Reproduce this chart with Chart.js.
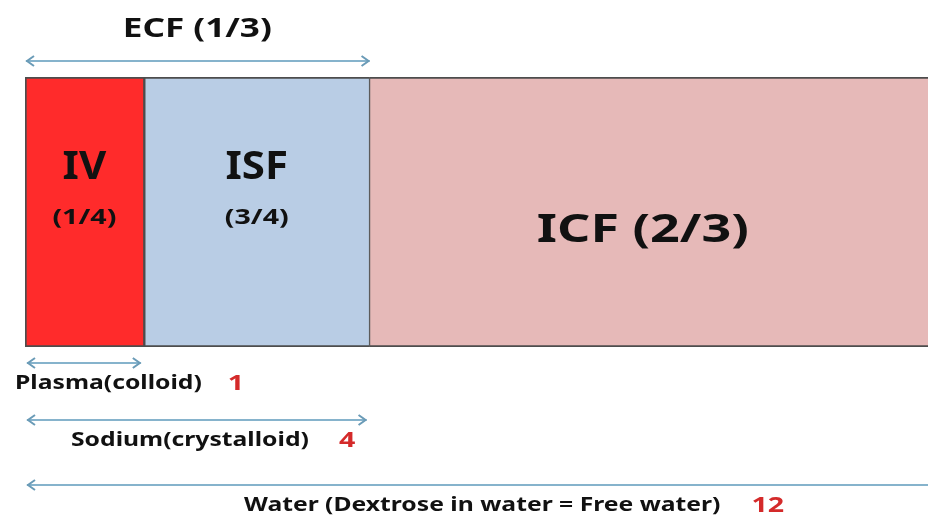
<!DOCTYPE html>
<html>
<head>
<meta charset="utf-8">
<script src="https://cdn.jsdelivr.net/npm/chart.js@4"></script>
<style>
  html, body { margin: 0; padding: 0; background: #fff; }
  #wrap { width: 928px; height: 519px; }
</style>
</head>
<body>
<div id="wrap"><canvas id="fluid_Chart" width="928" height="519"></canvas></div>
<script>
// 구획 데이터 (widths as drawn in the picture, IV = 1)
const segmentLabels = ['IV', 'ISF', 'ICF'];
const segmentValues = [1.0, 1.9, 4.7];
const segmentFractions = ['(1/4)', '(3/4)', '(2/3)'];
const segmentColors = ['#ff2b2b', '#b9cde5', '#e6b9b8'];

// 화살표 데이터 (each arrow runs from 0 to the end of segment n)
const arrowLabels = ['Plasma(colloid)', 'Sodium(crystalloid)', 'Water (Dextrose in water = Free water)'];
const arrowAmounts = ['1', '4', '12'];
const arrowEnds = [0, 1, 2];
const ecfLabel = 'ECF (1/3)';
const ecfEnd = 1;

const cumulative = segmentValues.map((v, i) => segmentValues.slice(0, i + 1).reduce((a, b) => a + b, 0));
const total = cumulative[cumulative.length - 1];

const FONT = '"Noto Sans", "DejaVu Sans", sans-serif';

// text in the picture is stretched sideways, sx is that stretch
function drawText(ctx, text, x, y, size, color, align, sx) {
    sx = sx || 1.3;
    ctx.save();
    ctx.font = 'bold ' + size + 'px ' + FONT;
    ctx.fillStyle = color;
    ctx.textBaseline = 'middle';
    ctx.translate(x, y);
    ctx.scale(sx, 1);
    ctx.textAlign = align || 'center';
    ctx.fillText(text, 0, 0);
    const w = ctx.measureText(text).width * sx;
    ctx.restore();
    return w;
}

function drawArrow(ctx, x1, x2, y, headRight) {
    ctx.save();
    ctx.strokeStyle = '#86b3cc';
    ctx.lineWidth = 2;
    ctx.beginPath();
    ctx.moveTo(x1, y);
    ctx.lineTo(x2, y);
    ctx.stroke();
    ctx.strokeStyle = '#6a9bb7';
    ctx.beginPath();
    ctx.moveTo(x1 + 8, y - 5);
    ctx.lineTo(x1 + 1, y);
    ctx.lineTo(x1 + 8, y + 5);
    if (headRight) {
        ctx.moveTo(x2 - 8, y - 5);
        ctx.lineTo(x2 - 1, y);
        ctx.lineTo(x2 - 8, y + 5);
    }
    ctx.stroke();
    ctx.restore();
}

const annotations = {
    id: 'annotations',
    afterDatasetsDraw(chart) {
        const ctx = chart.ctx;
        const xs = chart.scales.x;
        const x0 = xs.getPixelForValue(0);

        // ECF 화살표
        const ecfX = xs.getPixelForValue(cumulative[ecfEnd]);
        drawArrow(ctx, x0 + 1, ecfX, 61, true);
        drawText(ctx, ecfLabel, (x0 + ecfX) / 2, 29, 27, '#111');

        // 구획 라벨
        segmentLabels.forEach((label, i) => {
            const start = xs.getPixelForValue(i === 0 ? 0 : cumulative[i - 1]);
            const end = Math.min(xs.getPixelForValue(cumulative[i]), chart.width);
            const cx = (start + end) / 2;
            if (i < 2) {
                drawText(ctx, label, cx, 168, 40, '#111', 'center', 1.05);
                drawText(ctx, segmentFractions[i], cx, 218, 22, '#111');
            } else {
                drawText(ctx, label + ' ' + segmentFractions[i], cx - 6, 231, 40, '#111');
            }
        });

        // 아래쪽 화살표
        const rows = [
            { y: 363, ty: 384, tx: 15, gap: 26 },
            { y: 420, ty: 441, tx: 71, gap: 30 },
            { y: 485, ty: 506, tx: 244, gap: 31 }
        ];
        arrowLabels.forEach((label, i) => {
            const r = rows[i];
            const end = xs.getPixelForValue(cumulative[arrowEnds[i]]);
            drawArrow(ctx, x0 + 2, i === 2 ? chart.width + 10 : end - 3, r.y, i !== 2);
            const w = drawText(ctx, label, r.tx, r.ty, 19, '#111', 'left');
            drawText(ctx, arrowAmounts[i], r.tx + w + r.gap, r.ty, 22, '#d42a2a', 'left');
        });
    }
};

const ctxFluid = document.getElementById('fluid_Chart').getContext('2d');
new Chart(ctxFluid, {
    type: 'bar',
    data: {
        labels: ['Body water'],
        datasets: segmentLabels.map((label, i) => ({
            label: label,
            data: [segmentValues[i]],
            backgroundColor: segmentColors[i],
            borderColor: '#4d4d4d',
            borderWidth: i === 2 ? { top: 2, right: 0, bottom: 2, left: 1 } : { top: 2, right: 1, bottom: 2, left: 2 },
            borderSkipped: false,
            barPercentage: 1,
            categoryPercentage: 1
        }))
    },
    options: {
        indexAxis: 'y',
        responsive: false,
        animation: false,
        layout: {
            padding: { left: 25, right: 0, top: 77, bottom: 172 }
        },
        plugins: {
            legend: { display: false },
            tooltip: { enabled: false }
        },
        scales: {
            x: {
                stacked: true,
                display: false,
                min: 0,
                max: total
            },
            y: {
                stacked: true,
                display: false
            }
        }
    },
    plugins: [annotations]
});
</script>
</body>
</html>
